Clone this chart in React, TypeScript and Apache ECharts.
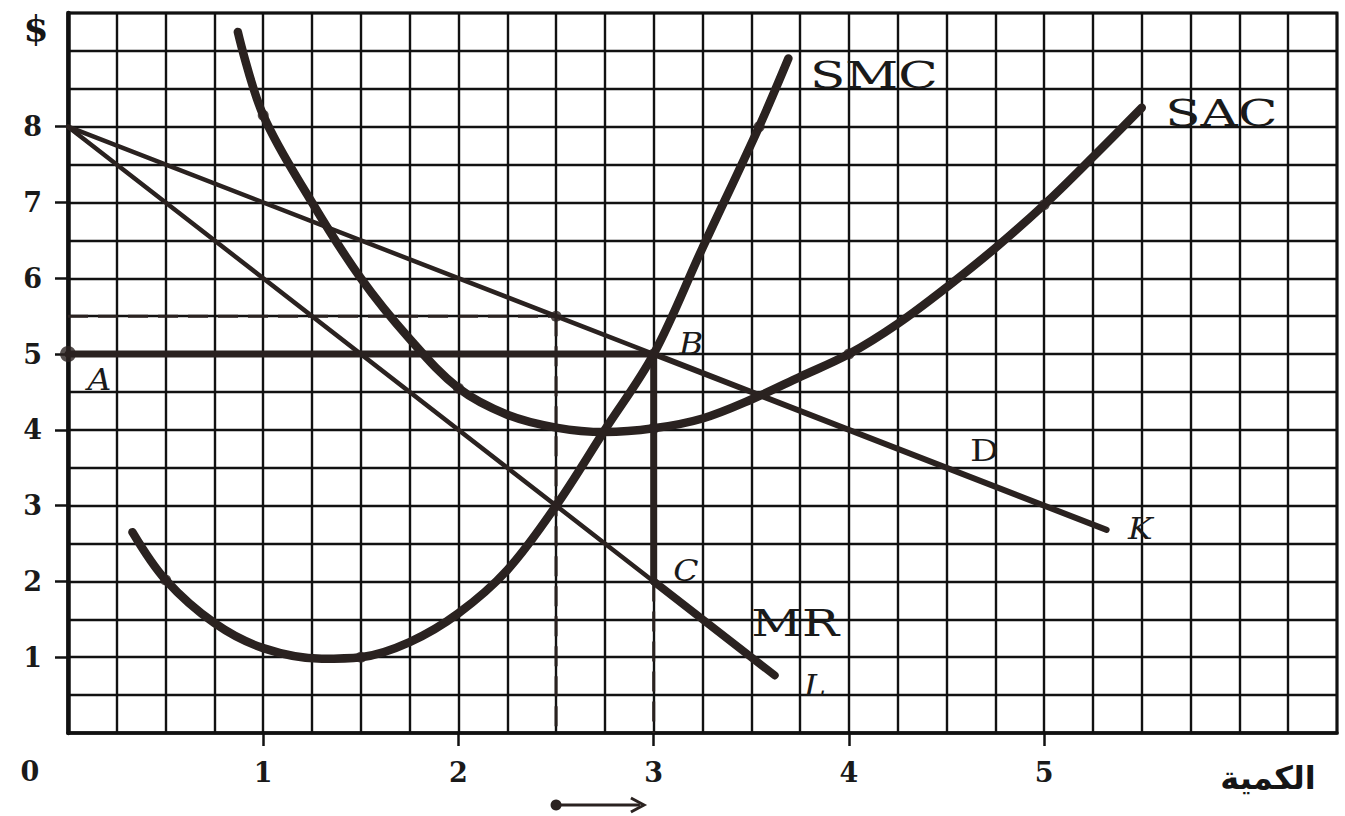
import React, { useEffect, useRef } from "react";
import * as echarts from "echarts";

// ---- data ----
const xTickValues = [1, 2, 3, 4, 5];
const yTickValues = [1, 2, 3, 4, 5, 6, 7, 8];

const smcPoints = [
  [0.33, 2.65], [0.5, 2.02], [0.75, 1.45], [1.0, 1.12], [1.3, 0.98], [1.5, 1.0],
  [1.75, 1.2], [2.0, 1.58], [2.25, 2.15], [2.5, 3.0], [2.75, 4.0], [3.0, 5.0],
  [3.25, 6.4], [3.54, 8.0], [3.69, 8.9],
];
const sacPoints = [
  [0.87, 9.25], [1.0, 8.15], [1.25, 7.0], [1.5, 6.0], [1.75, 5.2], [2.0, 4.55],
  [2.25, 4.2], [2.5, 4.03], [2.75, 3.97], [3.0, 4.02], [3.25, 4.15], [3.5, 4.4],
  [3.75, 4.7], [4.0, 5.0], [4.25, 5.4], [4.5, 5.88], [4.75, 6.4], [5.0, 6.97],
  [5.25, 7.6], [5.5, 8.25],
];
const demandLeft = [[0, 8], [3, 5]];
const demandRight = [[3, 5], [5.32, 2.68]];
const mrLeft = [[0, 8], [3, 2]];
const mrRight = [[3, 2], [3.62, 0.76]];
const ceilingLine = [[0, 5], [3, 5]];
const gapLine = [[3, 5], [3, 2]];
const dashPriceLine = [[0, 5.5], [2.5, 5.5]];
const dashQtyLine = [[2.5, 5.5], [2.5, 0]];
const dashQtyLine2 = [[3, 2], [3, 0]];
const keyPoints = [
  [2.5, 5.5], [3, 5], [2, 4.55], [4, 5], [5, 6.97], [0.5, 2.02], [1.5, 1], [3.54, 8],
  [1, 8.15], [2.5, 3], [3, 4.02],
];
const pointA = [[0, 5]];

const curveLabels = [
  { text: "SMC", at: [3.8, 8.68], italic: false, stretch: 1.36 },
  { text: "SAC", at: [5.62, 8.18], italic: false, stretch: 1.36 },
  { text: "B", at: [3.13, 5.14], italic: true, stretch: 1.1 },
  { text: "A", at: [0.1, 4.66], italic: true, stretch: 1.1 },
  { text: "D", at: [4.62, 3.73], italic: false, stretch: 1.2 },
  { text: "K", at: [5.43, 2.7], italic: true, stretch: 1.1 },
  { text: "C", at: [3.1, 2.15], italic: true, stretch: 1.1 },
  { text: "MR", at: [3.5, 1.45], italic: false, stretch: 1.3 },
  { text: "L", at: [3.77, 0.62], italic: true, stretch: 1.1 },
];
const arrowFrom = 2.5;
const arrowTo = 2.95;

const INK = "#2a2220";
const GRIDINK = "#111111";
const SERIF = "'DejaVu Serif', 'Liberation Serif', serif";

export default function App() {
  const ref = useRef<HTMLDivElement>(null);

  useEffect(() => {
    if (!ref.current) return;
    const chart = echarts.init(ref.current, null, { renderer: "svg" });

    const lineSeries = (name: string, data: number[][], width: number, extra: any = {}) => ({
      name,
      type: "line",
      data,
      symbol: "none",
      silent: true,
      z: 5,
      lineStyle: { color: INK, width, cap: "round", join: "round", ...(extra.lineStyle || {}) },
      ...(extra.rest || {}),
    });

    const tickLabelStyle = {
      fontFamily: SERIF, fontSize: 27, fontWeight: "bold", color: "#1a1a1a",
    };

    const option: any = {
      animation: false,
      backgroundColor: "#ffffff",
      grid: {
        left: 68, top: 13, width: 1269, height: 720,
        show: true, borderColor: GRIDINK, borderWidth: 3, backgroundColor: "#ffffff",
      },
      xAxis: [
        {
          type: "value", min: 0, max: 6.5, interval: 0.25,
          axisLine: { show: true, onZero: false, lineStyle: { color: GRIDINK, width: 3.5 } },
          axisTick: { show: false }, axisLabel: { show: false },
          splitLine: { show: true, lineStyle: { color: GRIDINK, width: 2.4 } },
        },
        {
          type: "value", min: 0, max: 6.5, interval: 1, position: "bottom", offset: 0,
          axisLine: { show: false },
          axisTick: { show: true, length: 13, customValues: xTickValues, lineStyle: { color: GRIDINK, width: 2.5 } },
          axisLabel: { show: true, customValues: xTickValues, margin: 26, ...tickLabelStyle },
          splitLine: { show: false },
        },
      ],
      yAxis: [
        {
          type: "value", min: 0, max: 9.5, interval: 0.5,
          axisLine: { show: true, onZero: false, lineStyle: { color: GRIDINK, width: 4.5 } },
          axisTick: { show: false }, axisLabel: { show: false },
          splitLine: { show: true, lineStyle: { color: GRIDINK, width: 2.4 } },
        },
        {
          type: "value", min: 0, max: 9.5, interval: 1, position: "left", offset: 0,
          axisLine: { show: false },
          axisTick: { show: true, length: 13, customValues: yTickValues, lineStyle: { color: GRIDINK, width: 2.5 } },
          axisLabel: { show: true, customValues: yTickValues, margin: 26, ...tickLabelStyle },
          splitLine: { show: false },
        },
      ],
      series: [
        lineSeries("dashP", dashPriceLine, 3, { lineStyle: { type: [20, 10], cap: "butt" } }),
        lineSeries("dashQ", dashQtyLine, 3, { lineStyle: { type: [20, 10], cap: "butt" } }),
        lineSeries("dashQ2", dashQtyLine2, 3, { lineStyle: { type: [20, 10], cap: "butt" } }),
        lineSeries("D1", demandLeft, 4.5),
        lineSeries("D2", demandRight, 6),
        lineSeries("MR1", mrLeft, 4.5),
        lineSeries("MR2", mrRight, 8),
        lineSeries("ceiling", ceilingLine, 7),
        lineSeries("gap", gapLine, 7),
        lineSeries("SMC", smcPoints, 8.5, { rest: { smooth: 0.35 } }),
        lineSeries("SAC", sacPoints, 8.5, { rest: { smooth: 0.35 } }),
        {
          type: "scatter", data: keyPoints, symbolSize: 11, silent: true, z: 6,
          itemStyle: { color: INK },
        },
        {
          type: "scatter", data: pointA, symbolSize: 16, silent: true, z: 6,
          itemStyle: { color: INK },
        },
      ],
    };
    chart.setOption(option);

    const toPx = (p: number[]) => chart.convertToPixel({ xAxisIndex: 0, yAxisIndex: 0 }, p) as number[];

    const graphics: any[] = [];
    curveLabels.forEach((l) => {
      const [x, y] = toPx(l.at);
      graphics.push({
        type: "text", x, y, scaleX: l.stretch, z: 10, silent: true,
        style: {
          text: l.text, fontFamily: SERIF, fontSize: l.text.length > 1 ? 38 : 30,
          fontStyle: l.italic ? "italic" : "normal", fill: "#1a1a1a",
          align: "left", verticalAlign: "middle",
        },
      });
    });
    graphics.push({
      type: "text", x: 36, y: 28, z: 10, silent: true,
      style: { text: "$", fontFamily: SERIF, fontSize: 36, fontWeight: "bold", fill: "#151515", align: "center", verticalAlign: "middle" },
    });
    graphics.push({
      type: "text", x: 30, y: 771, z: 10, silent: true,
      style: { text: "0", fontFamily: SERIF, fontSize: 27, fontWeight: "bold", fill: "#1a1a1a", align: "center", verticalAlign: "middle" },
    });
    graphics.push({
      type: "text", x: 1268, y: 778, z: 10, silent: true,
      style: { text: "الكمية", fontFamily: "'DejaVu Sans', sans-serif", fontSize: 32, fontWeight: "bold", fill: "#151515", align: "center", verticalAlign: "middle" },
    });
    const ax0 = toPx([arrowFrom, 0])[0];
    const ax1 = toPx([arrowTo, 0])[0];
    const ay = 805;
    graphics.push({ type: "circle", z: 10, silent: true, shape: { cx: ax0, cy: ay, r: 5.5 }, style: { fill: INK } });
    graphics.push({ type: "line", z: 10, silent: true, shape: { x1: ax0, y1: ay, x2: ax1 - 4, y2: ay }, style: { stroke: INK, lineWidth: 3 } });
    graphics.push({
      type: "polyline", z: 10, silent: true,
      shape: { points: [[ax1 - 13, ay - 7], [ax1, ay], [ax1 - 13, ay + 7]] },
      style: { stroke: INK, lineWidth: 3, fill: "none" },
    });
    chart.setOption({ graphic: graphics });

    return () => chart.dispose();
  }, []);

  return (
    <div
      ref={ref}
      style={{ position: "absolute", left: 0, top: 0, width: 1345, height: 816, background: "#fff" }}
    />
  );
}
